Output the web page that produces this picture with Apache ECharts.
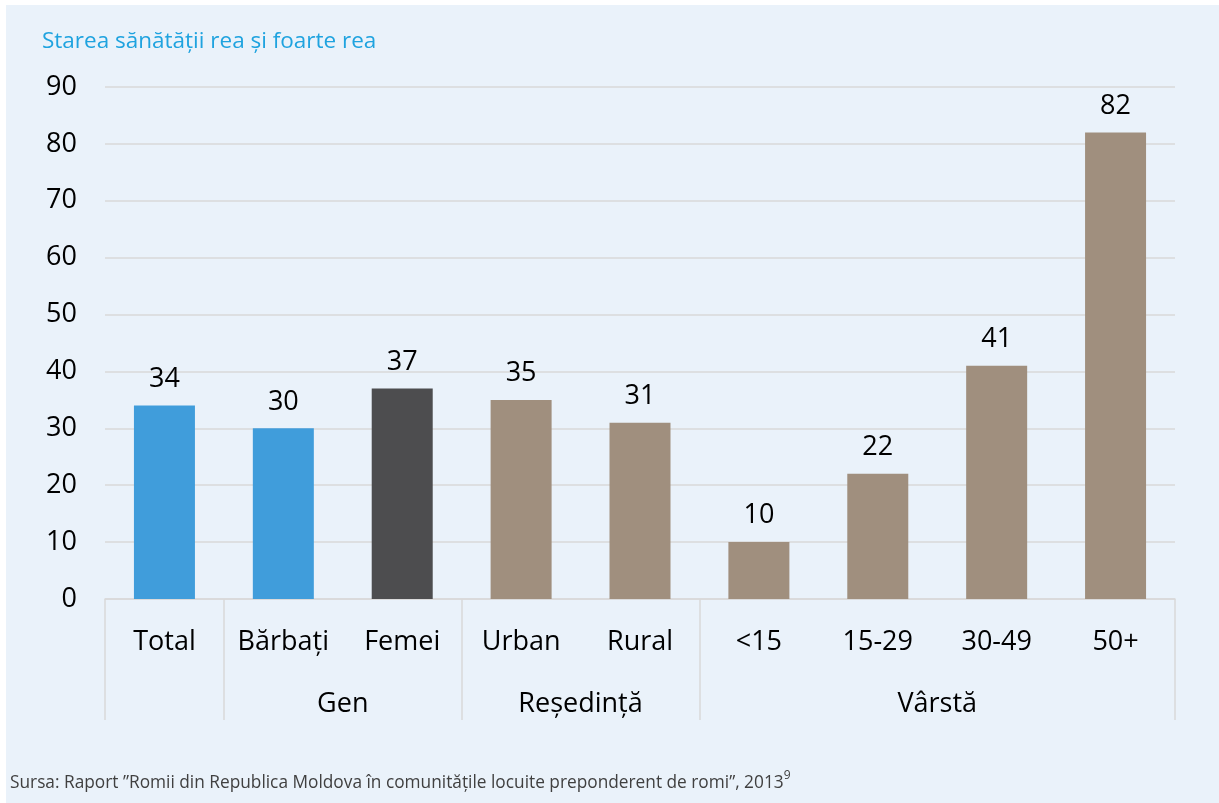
<!DOCTYPE html>
<html>
<head>
<meta charset="utf-8">
<script src="https://cdn.jsdelivr.net/npm/echarts@6/dist/echarts.min.js"></script>
<style>
  html, body { margin: 0; padding: 0; background: #fff; }
  #chart { width: 1219px; height: 803px; }
</style>
</head>
<body>
<div id="chart"></div>
<script>
const categories = ['Total', 'Bărbați', 'Femei', 'Urban', 'Rural', '<15', '15-29', '30-49', '50+'];
const values = [34, 30, 37, 35, 31, 10, 22, 41, 82];
const groupLabels = ['Gen', 'Reședință', 'Vârstă'];
const groupCenters = [2, 4, 7];
const groupBounds = [0, 1, 3, 5, 9];
const yTicks = [0, 10, 20, 30, 40, 50, 60, 70, 80, 90];

const barColors = ['#409DDB', '#409DDB', '#4D4D4F', '#A08F7E', '#A08F7E', '#A08F7E', '#A08F7E', '#A08F7E', '#A08F7E'];
const font = '"Open Sans", "Noto Sans", sans-serif';

const chart = echarts.init(document.getElementById('chart'));

chart.setOption({
  backgroundColor: '#ffffff',
  animation: false,
  textStyle: { fontFamily: font },
  graphic: [
    { type: 'rect', left: 6, top: 5, z: -10, shape: { width: 1213, height: 798 }, style: { fill: '#EAF2FA' } },
    {
      type: 'text', left: 42, top: 30,
      style: { text: 'Starea sănătății rea și foarte rea', fill: '#1FA3DF', font: '22.5px ' + font }
    },
    {
      type: 'text', left: 10, top: 770,
      style: {
        text: '{t|Sursa: Raport ”Romii din Republica Moldova în comunitățile locuite preponderent de romi”, 2013}{s|9}',
        rich: {
          t: { fill: '#404040', fontSize: 17.3, fontFamily: font, verticalAlign: 'bottom' },
          s: { fill: '#404040', fontSize: 12, fontFamily: font, verticalAlign: 'top', padding: [0, 0, 10, 0] }
        }
      }
    }
  ],
  grid: { left: 105, right: 44, top: 87, bottom: 204, containLabel: false },
  xAxis: [
    {
      type: 'category',
      data: categories,
      axisLine: { show: true, lineStyle: { color: '#D9D9D9', width: 1.5 } },
      axisTick: { show: false },
      axisLabel: { color: '#000', fontSize: 27, margin: 30, fontFamily: font }
    },
    {
      type: 'value',
      position: 'bottom',
      min: 0,
      max: 9,
      axisLine: { show: false },
      splitLine: { show: false },
      axisTick: {
        show: true,
        customValues: groupBounds,
        length: 121,
        lineStyle: { color: '#D9D9D9', width: 1.5 }
      },
      axisLabel: {
        show: true,
        customValues: groupCenters,
        color: '#000',
        fontSize: 27,
        margin: 92,
        fontFamily: font,
        formatter: v => {
          const i = groupCenters.indexOf(v);
          return i >= 0 ? groupLabels[i] : '';
        }
      }
    }
  ],
  yAxis: {
    type: 'value',
    min: yTicks[0],
    max: yTicks[yTicks.length - 1],
    interval: 10,
    axisLine: { show: false },
    axisTick: { show: false },
    splitLine: { lineStyle: { color: '#D9D9D9', width: 1.5 } },
    axisLabel: { color: '#000', fontSize: 27, margin: 28, fontFamily: font }
  },
  series: [
    {
      type: 'bar',
      xAxisIndex: 0,
      data: values.map((v, i) => ({ value: v, itemStyle: { color: barColors[i] } })),
      barWidth: 61,
      label: {
        show: true,
        position: 'top',
        distance: 13,
        color: '#000',
        fontSize: 27,
        fontFamily: font
      }
    }
  ]
});
</script>
</body>
</html>
